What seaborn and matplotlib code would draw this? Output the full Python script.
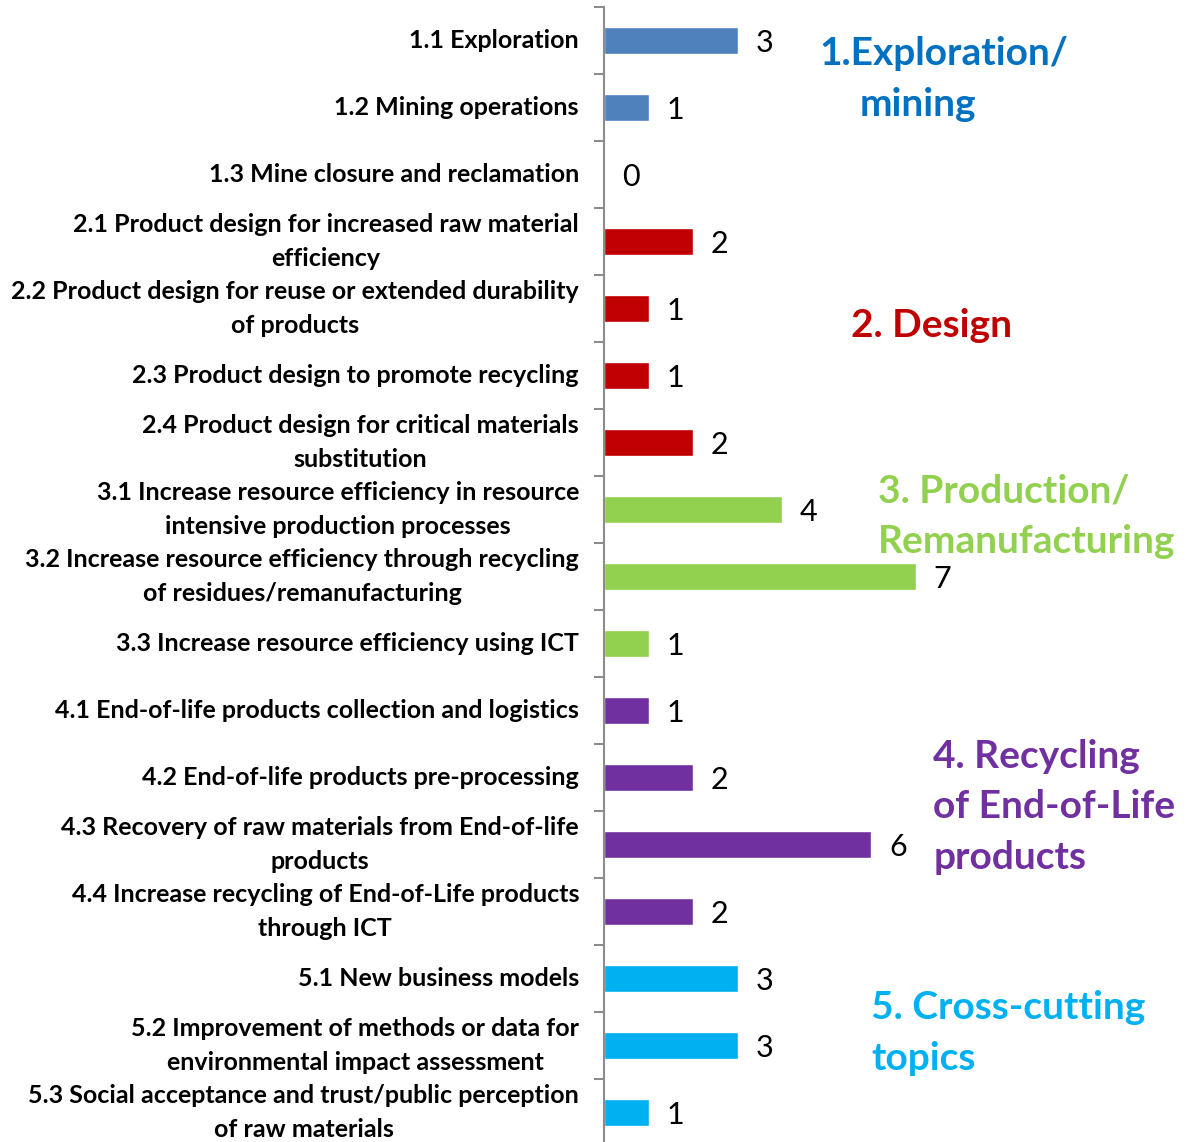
import numpy as np
import pandas as pd
import matplotlib
matplotlib.use("Agg")
import matplotlib.pyplot as plt
import seaborn as sns

# data
topics = [
    "1.1 Exploration",
    "1.2 Mining operations",
    "1.3 Mine closure and reclamation",
    "2.1 Product design for increased raw material\nefficiency",
    "2.2 Product design for reuse or extended durability\nof products",
    "2.3 Product design to promote recycling",
    "2.4 Product design for critical materials\nsubstitution",
    "3.1 Increase resource efficiency in resource\nintensive production processes",
    "3.2 Increase resource efficiency through recycling\nof residues/remanufacturing",
    "3.3 Increase resource efficiency using ICT",
    "4.1 End-of-life products collection and logistics",
    "4.2 End-of-life products pre-processing",
    "4.3 Recovery of raw materials from End-of-life\nproducts",
    "4.4 Increase recycling of End-of-Life products\nthrough ICT",
    "5.1 New business models",
    "5.2 Improvement of methods or data for\nenvironmental impact assessment",
    "5.3 Social acceptance and trust/public perception\nof raw materials",
]
counts = [3, 1, 0, 2, 1, 1, 2, 4, 7, 1, 1, 2, 6, 2, 3, 3, 1]
groups = ["1"] * 3 + ["2"] * 4 + ["3"] * 3 + ["4"] * 4 + ["5"] * 3

group_colors = {"1": "#4F81BD", "2": "#C00000", "3": "#92D050",
                "4": "#7030A0", "5": "#00B0F0"}
group_text_colors = {"1": "#0070C0", "2": "#C00000", "3": "#92D050",
                     "4": "#7030A0", "5": "#00B0F0"}

df = pd.DataFrame({"topic": topics, "count": counts, "group": groups})

sns.set_style("white")
plt.rcParams["font.family"] = ["Lato", "DejaVu Sans"]

W, H = 1198, 1142
fig = plt.figure(figsize=(W / 100, H / 100), dpi=100)
# axes placed in pixels: left spine at x=604, top at y=7, runs past the bottom edge
ax = fig.add_axes([604 / W, -4 / H, (W - 604) / W, 1139 / H])

sns.barplot(data=df, x="count", y="topic", hue="group", palette=group_colors,
            orient="h", width=0.4, dodge=False, legend=False, saturation=1, ax=ax)

px_per_unit = 44.5
ax.set_xlim(0, (W - 604) / px_per_unit)
ax.set_ylim(len(topics) - 0.5, -0.5)

for i, v in enumerate(counts):
    ax.annotate(str(v), (v, i), xytext=(13, -2), textcoords="offset points",
                ha="left", va="center", fontsize=22, color="black")

for s in ["top", "right", "bottom"]:
    ax.spines[s].set_visible(False)
ax.spines["left"].set_color("#8C8C8C")
ax.spines["left"].set_linewidth(1.5)
ax.set_xticks([])
ax.set_xlabel("")
ax.set_ylabel("")

# tick marks sit between the categories; the category names are drawn as bold text
ax.set_yticks(np.arange(-0.5, len(topics), 1))
ax.set_yticklabels([])
ax.tick_params(axis="y", left=True, length=7, width=1.5, color="#8C8C8C")

for i, name in enumerate(topics):
    ax.annotate(name, (0, i), xycoords=("axes fraction", "data"),
                xytext=(-25, 0), textcoords="offset pixels",
                ha="right", va="center", multialignment="center",
                linespacing=1.55, fontsize=18, fontweight="bold", color="black")

# group headings to the right of the bars
headings = [
    ("1", ["1.Exploration/", "mining"], [4.85, 5.75], 0.19),
    ("2", ["2. Design"], [5.55], 4.25),
    ("3", ["3. Production/", "Remanufacturing"], [6.15, 6.15], 6.72),
    ("4", ["4. Recycling", "of End-of-Life", "products"], [7.4, 7.4, 7.4], 10.68),
    ("5", ["5. Cross-cutting", "topics"], [6.0, 6.0], 14.43),
]
for g, lines, xs, y0 in headings:
    for k, (line, x) in enumerate(zip(lines, xs)):
        ax.text(x, y0 + k * 0.76, line, ha="left", va="center", fontsize=28,
                fontweight="bold", color=group_text_colors[g], clip_on=False)

fig.savefig("out.png", dpi=100)
